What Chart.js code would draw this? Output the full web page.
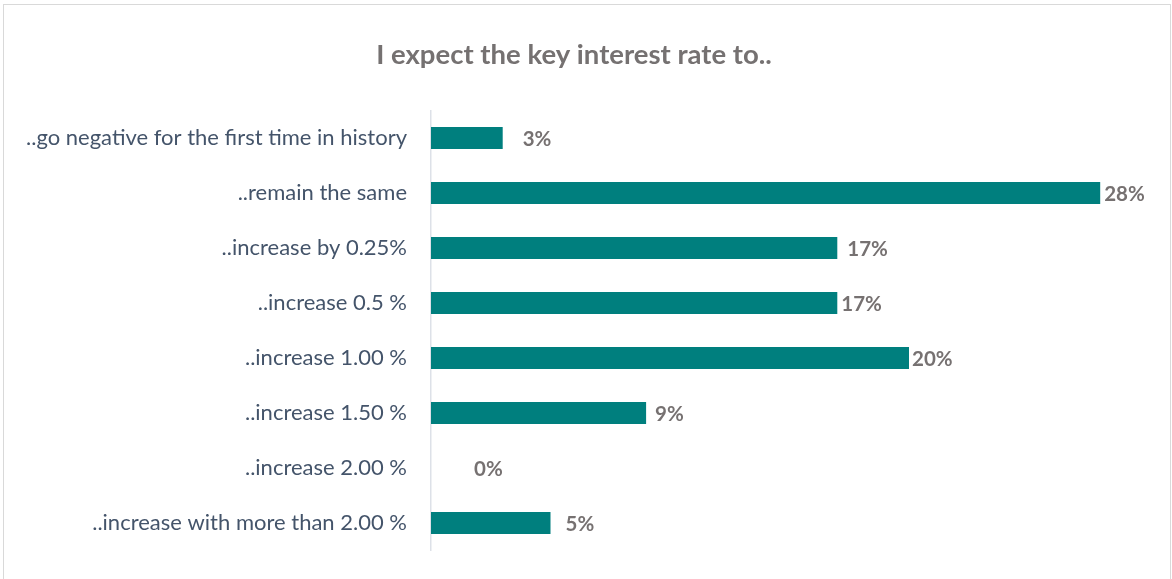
<!DOCTYPE html>
<html>
<head>
<meta charset="utf-8">
<script src="https://cdn.jsdelivr.net/npm/chart.js@4"></script>
<style>
  html, body { margin: 0; padding: 0; background: #fff; }
  .frame {
    position: absolute; left: 3px; top: 4px; width: 1168px; height: 576px;
    border: 1.5px solid #d9d9d9; box-sizing: border-box;
  }
  .wrap { position: absolute; left: 0; top: 0; width: 1172px; height: 579px; }
</style>
</head>
<body>
<div class="frame"></div>
<div class="wrap"><canvas id="rateChart" width="1172" height="579"></canvas></div>
<script>
const categories = [
    '..go negative for the first time in history',
    '..remain the same',
    '..increase by 0.25%',
    '..increase 0.5 %',
    '..increase 1.00 %',
    '..increase 1.50 %',
    '..increase 2.00 %',
    '..increase with more than 2.00 %'
];
const shares = [3, 28, 17, 17, 20, 9, 0, 5];

// extra space between bar end and its value label
const labelNudge = [20, 4, 10, 4, 3, 9, 43, 15];

const FONT = 'Lato, "Open Sans", sans-serif';

const valueLabels = {
    id: 'valueLabels',
    afterDatasetsDraw(chart) {
        const ctx = chart.ctx;
        const meta = chart.getDatasetMeta(0);
        ctx.save();
        ctx.font = 'bold 20.5px ' + FONT;
        ctx.fillStyle = '#767171';
        ctx.textAlign = 'left';
        ctx.textBaseline = 'middle';
        meta.data.forEach((bar, i) => {
            ctx.fillText(shares[i] + '%', bar.x + labelNudge[i], bar.y + 1);
        });
        ctx.restore();
    }
};

const ctx = document.getElementById('rateChart').getContext('2d');
new Chart(ctx, {
    type: 'bar',
    data: {
        labels: categories,
        datasets: [{
            data: shares,
            backgroundColor: '#007f7e',
            borderWidth: 0,
            barPercentage: 0.4,
            categoryPercentage: 1
        }]
    },
    options: {
        indexAxis: 'y',
        responsive: false,
        animation: false,
        layout: { padding: { left: 0, right: 24, top: 0, bottom: 28.5 } },
        scales: {
            x: {
                display: false,
                min: 0,
                max: 30
            },
            y: {
                grid: { display: false, drawTicks: false },
                border: { display: true, color: '#dde1e8', width: 1.5 },
                ticks: {
                    color: '#44546a',
                    font: { family: FONT, size: 22 },
                    padding: 24
                },
                afterFit(scale) {
                    // fixed label column; the tick padding should not eat vertical space
                    scale.width = 431;
                    scale.paddingTop = 0;
                    scale.paddingBottom = 0;
                }
            }
        },
        plugins: {
            legend: { display: false },
            tooltip: { enabled: false },
            title: {
                display: true,
                text: 'I expect the key interest rate to..',
                color: '#757171',
                font: { family: FONT, size: 27.5, weight: 'bold', lineHeight: 1.2 },
                padding: { top: 38.5, bottom: 39 }
            }
        }
    },
    plugins: [valueLabels]
});
</script>
</body>
</html>
